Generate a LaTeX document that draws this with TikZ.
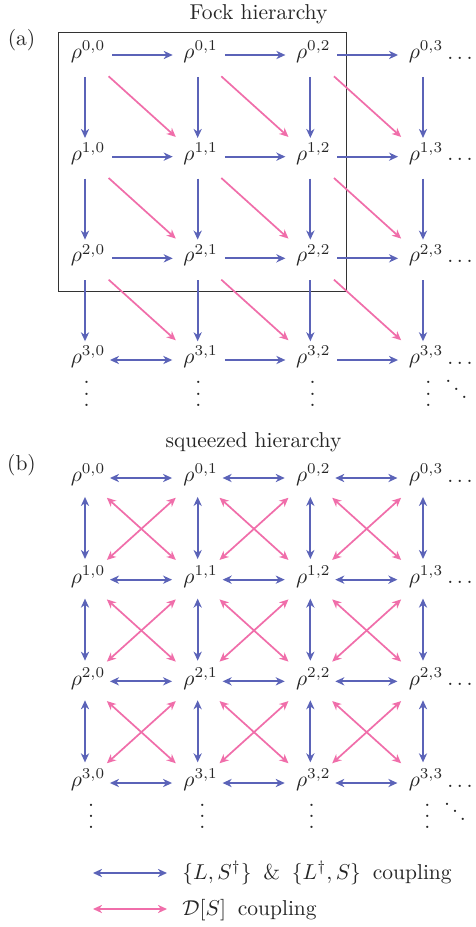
\documentclass[tikz,border=0pt]{standalone}
\usetikzlibrary{arrows.meta,calc}
\definecolor{cblue}{RGB}{91,99,184}
\definecolor{cpink}{RGB}{240,110,170}
\newcommand{\tallvdots}{\vbox{\baselineskip=5.2pt\lineskiplimit=0pt\hbox{.}\hbox{.}\hbox{.}}}
\newcommand{\tallddots}{\hbox{\raisebox{7.2pt}{.}\kern0.9pt\raisebox{3.6pt}{.}\kern0.9pt.}}
\begin{document}
\begin{tikzpicture}[x=0.465pt,y=-0.465pt,
  rho/.style={inner sep=1pt, text=black!85},
  dotnode/.style={inner sep=0pt, text=black!85},
  tip/.tip={Stealth[length=4.2pt,width=3.8pt,inset=1.3pt]},
  barr/.style={draw=cblue, line width=0.8pt, -tip},
  bdarr/.style={draw=cblue, line width=0.8pt, tip-tip},
  parr/.style={draw=cpink, line width=0.8pt, -tip},
  pdarr/.style={draw=cpink, line width=0.8pt, tip-tip},
  lbl/.style={inner sep=0pt, text=black!85, anchor=base}]
\useasboundingbox (0,0) rectangle (475,927);

% labels and titles
\node[lbl] (la) at (21.5,45.6) {(a)};
\node[lbl] (lb) at (21.5,470.6) {(b)};
\node[lbl] (ta) at (258.5,20) {Fock hierarchy};
\node[lbl] (tb) at (253.5,447) {squeezed hierarchy};

% nodes
\foreach \i in {0,...,3}{
  \foreach \j in {0,...,3}{
    \pgfmathsetmacro{\px}{85+112.667*\j+3}
    \pgfmathsetmacro{\pya}{55+101.667*\i-3}
    \pgfmathsetmacro{\pyb}{478+101.667*\i-3}
    \node[rho] (a\i\j) at (\px,\pya) {$\rho^{\i,\j}$};
    \node[rho] (b\i\j) at (\px,\pyb) {$\rho^{\i,\j}$};
  }
  \pgfmathsetmacro{\hya}{55+101.667*\i+4.2}
  \pgfmathsetmacro{\hyb}{478+101.667*\i+4.2}
  \node[dotnode, anchor=base west] (ah\i) at (447,\hya) {$\ldots$};
  \node[dotnode, anchor=base west] (bh\i) at (447,\hyb) {$\ldots$};
}

% Fock box
\draw[line width=0.4pt, black!80] (58,32) rectangle (346,291);

% (a) horizontal arrows
\foreach \i in {0,1,2}{
  \foreach \j/\k in {0/1,1/2,2/3}{
    \draw[barr, shorten <=12.6pt, shorten >=11.6pt] ($(a\i\j)+(-3,3)$) -- ($(a\i\k)+(-3,3)$);
  }
}
\draw[bdarr, shorten <=11.6pt, shorten >=11.8pt] ($(a30)+(-3,3)$) -- ($(a31)+(-3,3)$);
\foreach \j/\k in {1/2,2/3}{
  \draw[barr, shorten <=12.6pt, shorten >=11.6pt] ($(a3\j)+(-3,3)$) -- ($(a3\k)+(-3,3)$);
}
% (a) vertical arrows
\foreach \i/\k in {0/1,1/2,2/3}{
  \foreach \j in {0,...,3}{
    \draw[barr, shorten <=10.2pt, shorten >=8.7pt] ($(a\i\j)+(-3,3)$) -- ($(a\k\j)+(-3,3)$);
  }
}
% (a) diagonal arrows
\foreach \i/\k in {0/1,1/2,2/3}{
  \foreach \j/\l in {0/1,1/2,2/3}{
    \draw[parr, shorten <=14.8pt, shorten >=13.7pt] ($(a\i\j)+(-3,3)$) -- ($(a\k\l)+(-3,3)$);
  }
}

% (b) horizontal arrows
\foreach \i in {0,...,3}{
  \foreach \j/\k in {0/1,1/2,2/3}{
    \draw[bdarr, shorten <=11.6pt, shorten >=11.9pt] ($(b\i\j)+(-3,3)$) -- ($(b\i\k)+(-3,3)$);
  }
}
% (b) vertical arrows
\foreach \i/\k in {0/1,1/2,2/3}{
  \foreach \j in {0,...,3}{
    \draw[bdarr, shorten <=8.8pt, shorten >=9.6pt] ($(b\i\j)+(-3,3)$) -- ($(b\k\j)+(-3,3)$);
  }
}
% (b) crossing arrows
\foreach \i/\k in {0/1,1/2,2/3}{
  \foreach \j/\l in {0/1,1/2,2/3}{
    \draw[pdarr, shorten <=13.7pt, shorten >=13.7pt] ($(b\i\j)+(-3,3)$) -- ($(b\k\l)+(-3,3)$);
    \draw[pdarr, shorten <=13.7pt, shorten >=13.7pt] ($(b\i\l)+(-3,3)$) -- ($(b\k\j)+(-3,3)$);
  }
}

% vertical and diagonal dots
\foreach \x [count=\c from 0] in {86.7,198.3,312.7,428.3}{
  \node[dotnode, anchor=base] (av\c) at (\x,406.2) {\tallvdots};
}
\foreach \x [count=\c from 0] in {91,202.3,311.7,427.3}{
  \node[dotnode, anchor=base] (bv\c) at (\x,828.5) {\tallvdots};
}
\node[dotnode, anchor=base west] (add) at (445,398.2) {\tallddots};
\node[dotnode, anchor=base west] (bdd) at (443.7,820.5) {\tallddots};

% legend
\coordinate (l1a) at (93,873);
\coordinate (l1b) at (167,873);
\coordinate (l2a) at (93,909);
\coordinate (l2b) at (167,909);
\draw[bdarr] (l1a) -- (l1b);
\draw[pdarr] (l2a) -- (l2b);
\node[lbl, anchor=base west] (t1) at (182,879) {$\{L,S^\dagger\}$\hspace{5.5pt}\&\hspace{5.5pt}$\{L^\dagger,S\}$\hspace{5.5pt}coupling};
\node[lbl, anchor=base west] (t2) at (182,915.3) {$\mathcal{D}[S]$\hspace{5.5pt}coupling};
\end{tikzpicture}
\end{document}
